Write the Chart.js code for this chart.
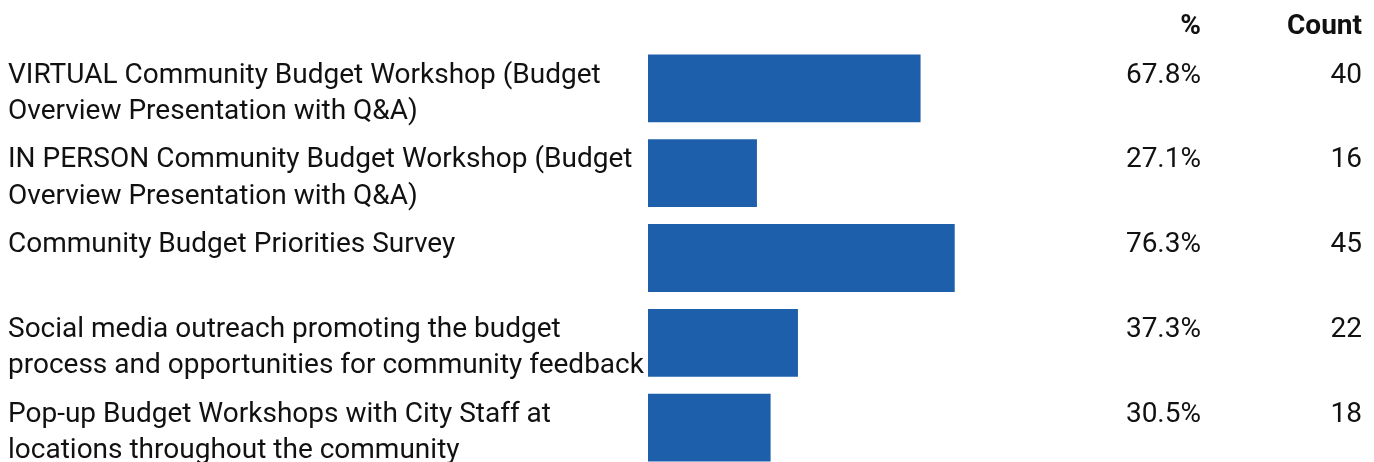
<!DOCTYPE html>
<html>
<head>
<meta charset="utf-8">
<script src="https://cdn.jsdelivr.net/npm/chart.js@4"></script>
<style>
  html, body { margin: 0; padding: 0; background: #fff; overflow: hidden; }
  #wrap { position: relative; width: 1374px; height: 472px; }
</style>
</head>
<body>
<div id="wrap"><canvas id="c"></canvas></div>
<script>
// Survey options (each label split into its printed lines)
const categories = [
  ["VIRTUAL Community Budget Workshop (Budget", "Overview Presentation with Q&A)"],
  ["IN PERSON Community Budget Workshop (Budget", "Overview Presentation with Q&A)"],
  ["Community Budget Priorities Survey"],
  ["Social media outreach promoting the budget", "process and opportunities for community feedback"],
  ["Pop-up Budget Workshops with City Staff at", "locations throughout the community"]
];
const percents = [67.8, 27.1, 76.3, 37.3, 30.5];
const counts = [40, 16, 45, 22, 18];
const columnHeaders = ["%", "Count"];

const FONT = "Roboto, 'Noto Sans', sans-serif";
const BAR = "#1e5fab";

// Draws the wrapped row labels plus the % and Count columns
const tablePlugin = {
  id: "tableText",
  afterDatasetsDraw(chart) {
    const ctx = chart.ctx;
    const y = chart.scales.y;
    const step = y.getPixelForValue(1) - y.getPixelForValue(0);
    const pctRight = 1201, cntRight = 1362;
    ctx.save();
    ctx.fillStyle = "#111";
    ctx.textBaseline = "alphabetic";
    ctx.font = "bold 28px " + FONT;
    ctx.textAlign = "right";
    ctx.fillText(columnHeaders[0], pctRight, 34);
    ctx.fillText(columnHeaders[1], cntRight, 34);
    ctx.font = "28px " + FONT;
    categories.forEach((lines, i) => {
      const top = y.getPixelForValue(i) - step / 2;
      const base = top + 36.5;
      ctx.textAlign = "left";
      lines.forEach((ln, k) => ctx.fillText(ln, 8, base + k * 36.5));
      ctx.textAlign = "right";
      ctx.fillText(percents[i].toFixed(1) + "%", pctRight, base);
      ctx.fillText(String(counts[i]), cntRight, base);
    });
    ctx.restore();
  }
};

new Chart(document.getElementById("c"), {
  type: "bar",
  data: {
    labels: categories.map(l => l.join(" ")),
    datasets: [{
      data: percents,
      backgroundColor: BAR,
      borderWidth: 0,
      categoryPercentage: 1,
      barPercentage: 0.8
    }]
  },
  options: {
    indexAxis: "y",
    responsive: true,
    maintainAspectRatio: false,
    animation: false,
    layout: { padding: { left: 648, right: 324, top: 46, bottom: 2 } },
    plugins: { legend: { display: false }, tooltip: { enabled: false } },
    scales: {
      x: { min: 0, max: 100, display: false },
      y: { display: false }
    }
  },
  plugins: [tablePlugin]
});
</script>
</body>
</html>
